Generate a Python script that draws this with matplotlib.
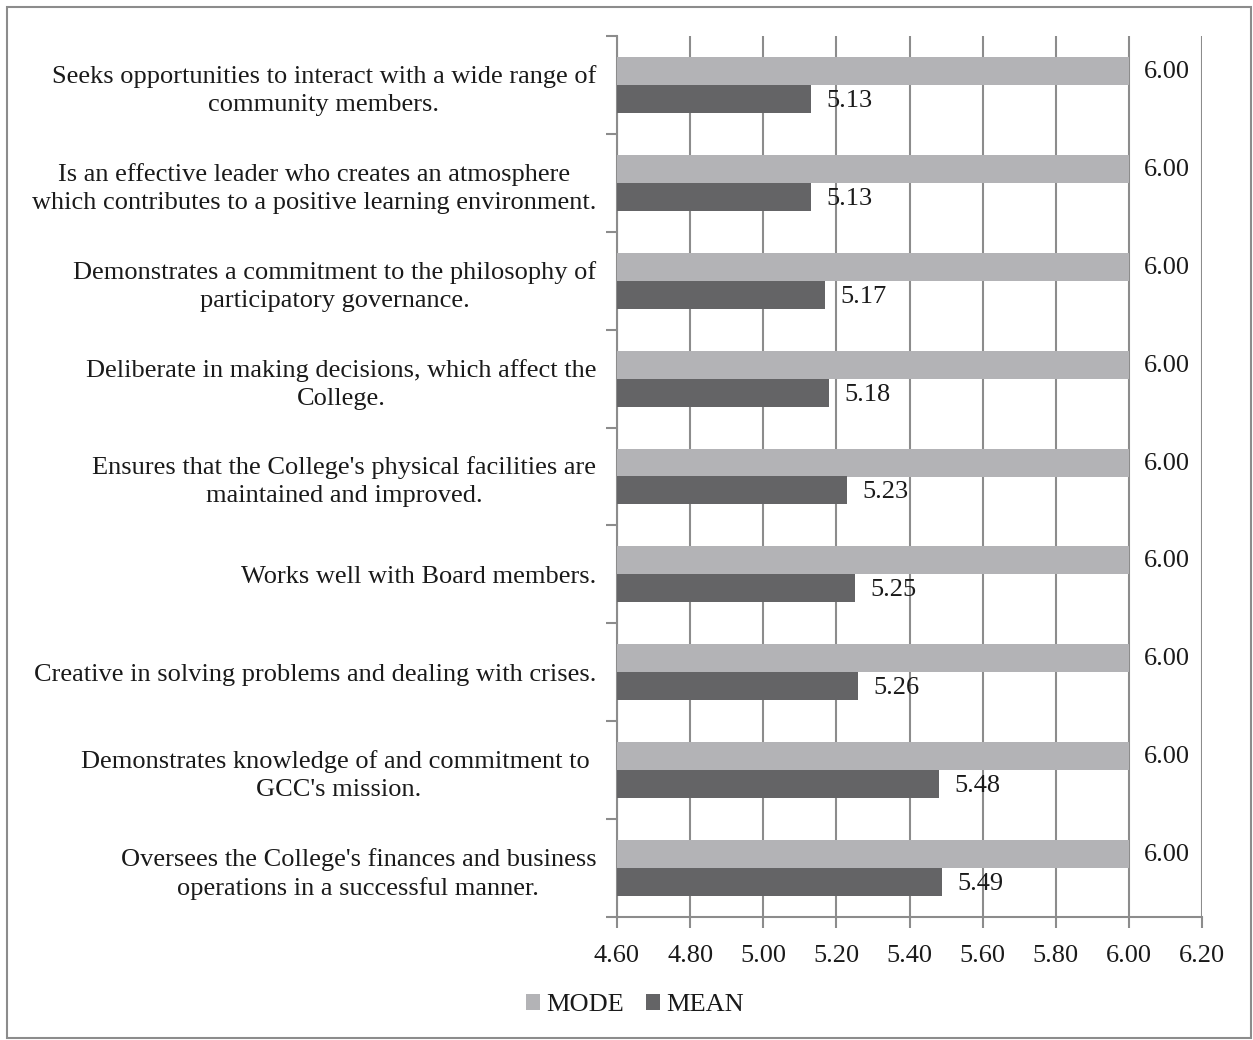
import matplotlib
matplotlib.use('Agg')
import matplotlib.pyplot as plt
import numpy as np

categories = [
    "Seeks opportunities to interact with a wide range of\ncommunity members.",
    "Is an effective leader who creates an atmosphere\nwhich contributes to a positive learning environment.",
    "Demonstrates a commitment to the philosophy of\nparticipatory governance.",
    "Deliberate in making decisions, which affect the\nCollege.",
    "Ensures that the College's physical facilities are\nmaintained and improved.",
    "Works well with Board members.",
    "Creative in solving problems and dealing with crises.",
    "Demonstrates knowledge of and commitment to \nGCC's mission.",
    "Oversees the College's finances and business\noperations in a successful manner.",
]
mode_vals = [6.00, 6.00, 6.00, 6.00, 6.00, 6.00, 6.00, 6.00, 6.00]
mean_vals = [5.13, 5.13, 5.17, 5.18, 5.23, 5.25, 5.26, 5.48, 5.49]
xticks = [4.60, 4.80, 5.00, 5.20, 5.40, 5.60, 5.80, 6.00, 6.20]

plt.rcParams['font.family'] = ['Liberation Serif', 'DejaVu Serif']
plt.rcParams['font.size'] = 19

mode_col = '#b3b3b6'
mean_col = '#646466'
grid_col = '#8c8c8c'
txt_col = '#1a1a1a'

fig = plt.figure(figsize=(12.53, 10.40), dpi=100)
ax = fig.add_axes([617/1253, 1 - 917/1040, 585/1253, 881/1040])

n = len(categories)
y = np.arange(n)[::-1].astype(float)
h = 0.285
ax.barh(y + h/2, [v - 4.6 for v in mode_vals], left=4.6, height=h, color=mode_col, label='MODE', zorder=3)
ax.barh(y - h/2, [v - 4.6 for v in mean_vals], left=4.6, height=h, color=mean_col, label='MEAN', zorder=3)

for yi, v in zip(y, mode_vals):
    ax.text(v + 0.04, yi + h/2 - 0.01, f"{v:.2f}", va='center', ha='left', color=txt_col, zorder=4)
for yi, v in zip(y, mean_vals):
    ax.text(v + 0.042, yi - h/2 - 0.02, f"{v:.2f}", va='center', ha='left', color=txt_col, zorder=4)

ax.set_xlim(4.6, 6.2)
ax.set_ylim(-0.5, n - 0.5)
ax.set_xticks(xticks)
ax.set_xticklabels([f"{t:.2f}" for t in xticks], color=txt_col)
ax.xaxis.grid(True, color=grid_col, linewidth=1.5, zorder=0)

ax.set_yticks(np.arange(n + 1) - 0.5)
ax.set_yticklabels([])
ax.set_yticks(y, minor=True)
ax.set_yticklabels(categories, minor=True, ha='right', multialignment='center', color=txt_col)
ax.tick_params(axis='y', which='minor', length=0, pad=15)
ax.tick_params(axis='y', which='major', length=8, width=1.5, color=grid_col)
ax.tick_params(axis='x', length=8, width=1.5, color=grid_col, pad=12)
for lbl in ax.get_yticklabels(minor=True):
    lbl.set_linespacing(1.35)

for s in ['top', 'right']:
    ax.spines[s].set_visible(False)
ax.spines['left'].set_color(grid_col)
ax.spines['left'].set_linewidth(1.5)
ax.spines['bottom'].set_color(grid_col)
ax.spines['bottom'].set_linewidth(1.5)

leg = fig.legend(loc='center', bbox_to_anchor=(635/1253, 1 - 1005/1040), ncol=2, frameon=False,
                 handlelength=0.55, handleheight=0.55, handletextpad=0.25, columnspacing=0.8)
for t in leg.get_texts():
    t.set_color(txt_col)

fig.patches.append(plt.Rectangle((7/1253, 2/1040), 1244/1253, 1031/1040, transform=fig.transFigure,
                                 fill=False, edgecolor='#8c8c8c', linewidth=1.5))

plt.savefig("out.png", dpi=100)
